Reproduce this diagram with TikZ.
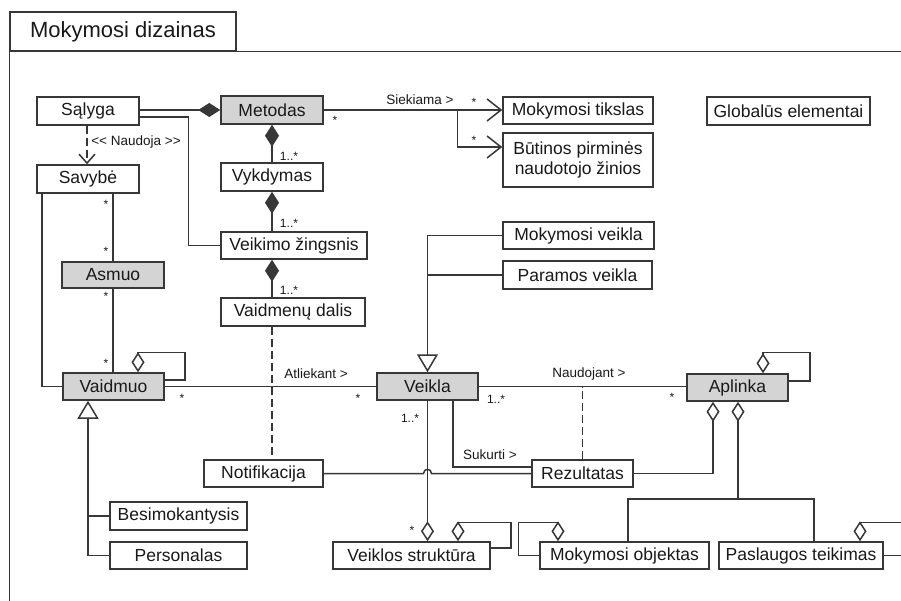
\documentclass[tikz,border=0pt]{standalone}
\usepackage{fontspec}
\setmainfont[Ligatures=NoCommon]{Liberation Sans}
\usetikzlibrary{arrows.meta,calc}
\definecolor{linec}{RGB}{55,55,55}
\definecolor{grayf}{RGB}{212,212,212}
\definecolor{txt}{RGB}{25,25,25}
\tikzset{
  cls/.style={draw=linec, line width=1.5pt, fill=white, inner sep=0pt, text=txt,
    font=\fontsize{17.5}{20}\selectfont, align=center},
  gcls/.style={cls, fill=grayf},
  ln/.style={draw=linec, line width=1.5pt},
  dashln/.style={ln, dash pattern=on 8pt off 4pt},
  lbl/.style={font=\fontsize{13.5}{15}\selectfont, text=txt, inner sep=0pt},
  mult/.style={font=\fontsize{12}{13}\selectfont, text=txt, inner sep=0pt},
  comp/.tip={Diamond[length=22pt,width=14pt,fill=linec]},
  agg/.tip={Diamond[open,length=20pt,width=13pt]},
  gen/.tip={Triangle[open,length=18pt,width=21pt]},
  nav/.tip={Straight Barb[length=14pt,width=22pt]},
  dep/.tip={Straight Barb[length=9pt,width=16pt]},
}
\begin{document}
\begin{tikzpicture}[x=1pt,y=-1pt]
\useasboundingbox (0,0) rectangle (901,601);
\fill[white] (0,0) rectangle (901,601);

% frame
\node[draw=linec, line width=1.5pt, minimum width=226pt, minimum height=39pt, inner sep=0pt,
  text=txt, font=\fontsize{22}{24}\selectfont] (tab) at (123,31.5) {Mokymosi dizainas};
\draw[ln] (tab.south west) -- ++(0,580);
\draw[ln] (tab.south west) -- ++(900,0);

% classes
\node[cls, minimum width=102pt, minimum height=28pt] (salyga) at (88,111) {Sąlyga};
\node[cls, minimum width=102pt, minimum height=28pt] (savybe) at (88,179) {Savybė};
\node[gcls, minimum width=102pt, minimum height=26pt] (asmuo) at (113,275) {Asmuo};
\node[gcls, minimum width=101pt, minimum height=27pt] (vaidmuo) at (113.5,386.5) {Vaidmuo};
\node[gcls, minimum width=102pt, minimum height=28pt] (metodas) at (272,110) {Metodas};
\node[cls, minimum width=102pt, minimum height=28pt] (vykdymas) at (272,177) {Vykdymas};
\node[cls, minimum width=146pt, minimum height=27pt] (veikimo) at (294,245.5) {Veikimo žingsnis};
\node[cls, minimum width=144pt, minimum height=28pt] (vaidmenu) at (293,312) {Vaidmenų dalis};
\node[cls, minimum width=119pt, minimum height=27pt] (notif) at (263.5,473.5) {Notifikacija};
\node[cls, minimum width=137pt, minimum height=28pt] (besim) at (178.5,516) {Besimokantysis};
\node[cls, minimum width=137pt, minimum height=27pt] (personalas) at (178.5,555.5) {Personalas};
\node[gcls, minimum width=101pt, minimum height=27pt] (veikla) at (427.5,386.5) {Veikla};
\node[cls, minimum width=157pt, minimum height=27pt] (vstruk) at (411.5,555.5) {Veiklos struktūra};
\node[cls, minimum width=150pt, minimum height=27pt] (tikslas) at (578,110.5) {Mokymosi tikslas};
\node[cls, minimum width=150pt, minimum height=54pt] (butinos) at (578,160) {Būtinos pirminės\\naudotojo žinios};
\node[cls, minimum width=163pt, minimum height=28pt] (global) at (788.5,111) {Globalūs elementai};
\node[cls, minimum width=151pt, minimum height=27pt] (mveikla) at (578.5,235.5) {Mokymosi veikla};
\node[cls, minimum width=149pt, minimum height=28pt] (paramos) at (577.5,275) {Paramos veikla};
\node[cls, minimum width=101pt, minimum height=27pt] (rezultatas) at (582.5,473.5) {Rezultatas};
\node[gcls, minimum width=101pt, minimum height=27pt] (aplinka) at (737.5,387.5) {Aplinka};
\node[cls, minimum width=169pt, minimum height=27pt] (mobj) at (624.5,555.5) {Mokymosi objektas};
\node[cls, minimum width=164pt, minimum height=27pt] (paslaug) at (801,555.5) {Paslaugos teikimas};

% compositions
\draw[ln,-{comp}] (salyga.east |- metodas.west) -- (metodas.west);
\draw[ln,{comp}-] (metodas.south) -- (vykdymas.north);
\draw[ln,{comp}-] (vykdymas.south) -- (vykdymas.south |- veikimo.north);
\draw[ln,{comp}-] (vykdymas.south |- veikimo.south) -- (vykdymas.south |- vaidmenu.north);
\node[mult] (m1) at (289,156) {1..*};
\node[mult] (m2) at (289,223) {1..*};
\node[mult] (m3) at (289,290) {1..*};

% Salyga -> Veikimo zingsnis
\draw[ln] ($(salyga.east)+(0,6)$) -| ($(veikimo.west)+(-32,0)$) -- (veikimo.west);

% Salyga -> Savybe dependency
\draw[dashln,-{dep}] ($(salyga.south)+(-1,0)$) -- ($(savybe.north)+(-1,0)$);
\node[lbl] (naudoja) at (136,142) {<{}< Naudoja >{}>};

% Metodas -> goals
\draw[ln,-{nav}] (metodas.east) -- (metodas.east -| tikslas.west);
\draw[ln,-{nav}] ($(tikslas.west)+(-45,-0.5)$) |- (butinos.west |- 0,147);
\node[lbl] (siek) at (420,100) {Siekiama >};
\node[mult] (s1) at (335,120) {*};
\node[mult] (s2) at (474,102) {*};
\node[mult] (s3) at (474,140) {*};

% Savybe / Asmuo / Vaidmuo
\draw[ln] ($(savybe.south)+(-46,0)$) |- (vaidmuo.west);
\draw[ln] (savybe.south -| asmuo.north) -- (asmuo.north);
\draw[ln] (asmuo.south) -- (asmuo.south |- vaidmuo.north);
\node[mult] (a1) at (106,204) {*};
\node[mult] (a2) at (106,251) {*};
\node[mult] (a3) at (106,296) {*};
\node[mult] (a4) at (106,363) {*};

% Vaidmuo self aggregation
\draw[ln,{agg}-] ($(vaidmuo.north)+(24.5,0)$) -- ++(0,-20) -| ($(vaidmuo.east)+(20,-6.5)$) -- ($(vaidmuo.east)+(0,-6.5)$);

% Vaidmuo generalization
\coordinate (gv) at ($(vaidmuo.south)+(-25.5,0)$);
\draw[ln,-{gen}] (personalas.west) -| (gv);
\draw[ln] (besim.west) -- (besim.west -| gv);

% Vaidmuo - Veikla
\draw[ln] (vaidmuo.east) -- (veikla.west);
\node[lbl] (atl) at (316,374) {Atliekant >};
\node[mult] (v1) at (182,398) {*};
\node[mult] (v2) at (358,398) {*};
\draw[dashln] (vaidmenu.south -| metodas.south) -- (notif.north -| metodas.south);

% Veikla generalization
\draw[ln,-{gen}] (mveikla.west) -| (veikla.north);
\draw[ln] (paramos.west) -- (paramos.west -| veikla.north);

% Veikla - Aplinka
\draw[ln] (veikla.east) -- (veikla.east -| aplinka.west);
\node[lbl] (naud) at (589,374) {Naudojant >};
\node[mult] (n1) at (496,399) {1..*};
\node[mult] (n2) at (672,397) {*};
\draw[dashln] (rezultatas.north) -- (rezultatas.north |- veikla.east);

% Veikla - Veiklos struktura
\draw[ln,-{agg}] (veikla.south) -- (veikla.south |- vstruk.north);
\node[mult] (k1) at (410,418) {1..*};
\node[mult] (k2) at (412,530) {*};
\draw[ln,{agg}-] ($(vstruk.north)+(46.5,0)$) -- ++(0,-19) -| ($(vstruk.east)+(20,-7.5)$) -- ($(vstruk.east)+(0,-7.5)$);

% Sukurti
\draw[ln] ($(veikla.south)+(25.5,0)$) |- ($(rezultatas.west)+(0,-6.5)$);
\node[lbl] (suk) at (490,455) {Sukurti >};

% Notifikacija - Rezultatas with hop
\draw[ln] (notif.east) -- ($(veikla.south |- notif.east)+(-4,0)$)
  .. controls +(0,-5.5) and +(0,-5.5) .. ++(8,0) -- (rezultatas.west);

% Rezultatas -> Aplinka aggregation
\draw[ln,-{agg}] (rezultatas.east) -| ($(aplinka.south)+(-24.5,0)$);

% Aplinka aggregation to objects
\coordinate (junc) at ($(aplinka.south)+(0.5,97)$);
\draw[ln,{agg}-] (aplinka.south -| junc) -- (junc);
\draw[ln] ($(mobj.north)+(3.5,0)$) |- (junc) -| ($(paslaug.north)+(13,0)$);

% Aplinka self aggregation
\draw[ln,{agg}-] ($(aplinka.north)+(25.5,0)$) -- ++(0,-21) -| ($(aplinka.east)+(21,-6.5)$) -- ($(aplinka.east)+(0,-6.5)$);

% Mokymosi objektas self aggregation
\draw[ln,{agg}-] ($(mobj.north)+(-66.5,0)$) -- ++(0,-19) -| ($(mobj.west)+(-21,0)$) -- (mobj.west);

% Paslaugos teikimas self aggregation
\draw[ln,{agg}-] ($(paslaug.north)+(59,0)$) -- ++(0,-19) -| ($(paslaug.east)+(30,0)$) -- (paslaug.east);
\end{tikzpicture}
\end{document}
